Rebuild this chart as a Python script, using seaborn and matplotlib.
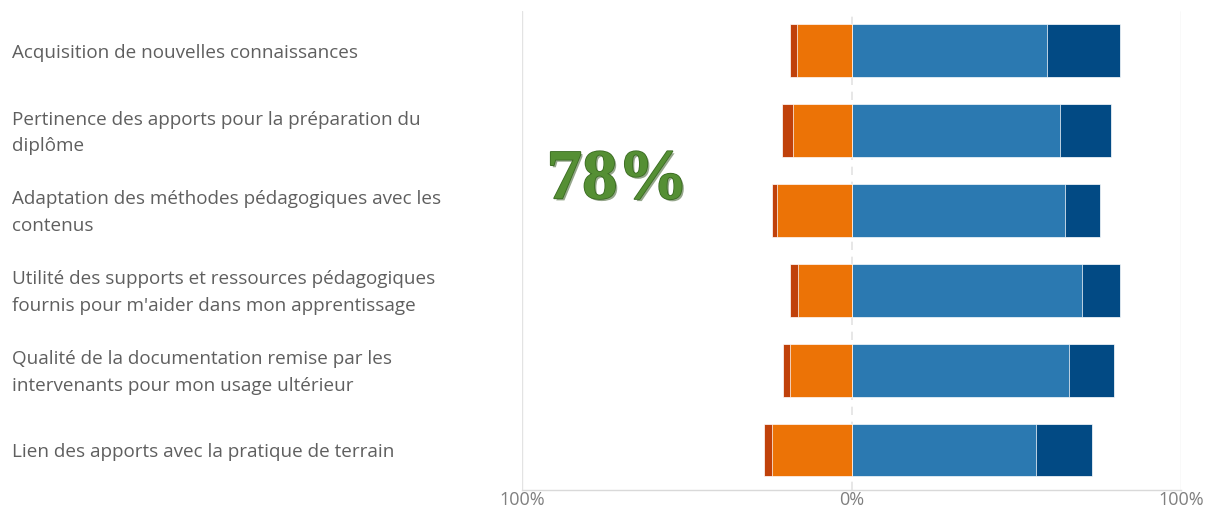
import matplotlib
matplotlib.use("Agg")
import matplotlib.pyplot as plt
import matplotlib.patheffects as pe
import matplotlib.transforms as mtransforms
import pandas as pd
import seaborn as sns

# Survey items, top to bottom
questions = [
    "Acquisition de nouvelles connaissances",
    "Pertinence des apports pour la préparation du\ndiplôme",
    "Adaptation des méthodes pédagogiques avec les\ncontenus",
    "Utilité des supports et ressources pédagogiques\nfournis pour m'aider dans mon apprentissage",
    "Qualité de la documentation remise par les\nintervenants pour mon usage ultérieur",
    "Lien des apports avec la pratique de terrain",
]

# Share of answers (%)
pas_du_tout = [2.1, 3.5, 1.5, 2.5, 2.0, 2.5]
plutot_non = [16.6, 17.7, 22.7, 16.2, 18.7, 24.2]
plutot_oui = [59.4, 63.4, 64.9, 70.0, 66.0, 55.9]
tout_a_fait = [22.2, 15.2, 10.6, 11.6, 13.6, 17.2]

x_ticks = [-100, 0, 100]
x_tick_labels = ["100%", "0%", "100%"]
score_label = "78%"

c_dark_red = "#c0410a"
c_orange = "#ec7306"
c_blue = "#2b79b1"
c_dark_blue = "#024a84"
text_grey = "#5f5f5f"

df = pd.DataFrame({
    "question": questions,
    "neg_total": [-(a + b) for a, b in zip(pas_du_tout, plutot_non)],
    "neg_inner": [-b for b in plutot_non],
    "pos_total": [a + b for a, b in zip(plutot_oui, tout_a_fait)],
    "pos_inner": plutot_oui,
})

sns.set_style("white")
plt.rcParams["font.family"] = ["Open Sans", "DejaVu Sans"]

fig, ax = plt.subplots(figsize=(12.05, 5.07), dpi=100)
fig.subplots_adjust(left=0.4332, right=0.9801, bottom=0.0335, top=0.979)

bar_kw = dict(y="question", orient="h", width=0.66, ax=ax, saturation=1,
              edgecolor="#ffffff", linewidth=0.5)
sns.barplot(data=df, x="pos_total", color=c_dark_blue, **bar_kw)
sns.barplot(data=df, x="pos_inner", color=c_blue, **bar_kw)
sns.barplot(data=df, x="neg_total", color=c_dark_red, **bar_kw)
sns.barplot(data=df, x="neg_inner", color=c_orange, **bar_kw)
for p in ax.patches:
    p.set_alpha(1.0)
    p.set_edgecolor((1, 1, 1, 0.2))

ax.set_xlim(-100, 100)
ax.set_ylim(len(questions) - 0.5, -0.5)
ax.set_xlabel("")
ax.set_ylabel("")
ax.set_xticks(x_ticks)
ax.set_xticklabels(x_tick_labels, color="#7f7f7f", fontsize=13)
ax.tick_params(axis="x", length=0, pad=1)
ax.set_yticks([])

# light grid at the extremes, dashed zero line
for v in (-100, 100):
    ax.axvline(v, color="#e3e3e3", lw=1, zorder=0)
ax.axvline(0, color="#e3e3e3", lw=1.2, ls=(0, (5, 4)), zorder=0)

for s in ("left", "right", "top"):
    ax.spines[s].set_visible(False)
ax.spines["bottom"].set_color("#d9d9d9")
ax.spines["bottom"].set_linewidth(1)

# category labels on the far left
trans = mtransforms.blended_transform_factory(fig.transFigure, ax.transData)
for i, q in enumerate(questions):
    ax.text(12 / 1205, i + 0.03, q, transform=trans, ha="left", va="center",
            fontsize=13.6, color=text_grey, linespacing=1.62)

# big score
ax.text(-71, 1.63, score_label, ha="center", va="center",
        fontsize=51, fontweight="bold", family="Liberation Serif",
        color="#558f34",
        path_effects=[pe.SimplePatchShadow(offset=(1.5, -1.5), shadow_rgbFace="#2c4f18", alpha=0.5),
                      pe.withStroke(linewidth=1.2, foreground="#3a6b22")])

plt.savefig("out.png", dpi=100)
